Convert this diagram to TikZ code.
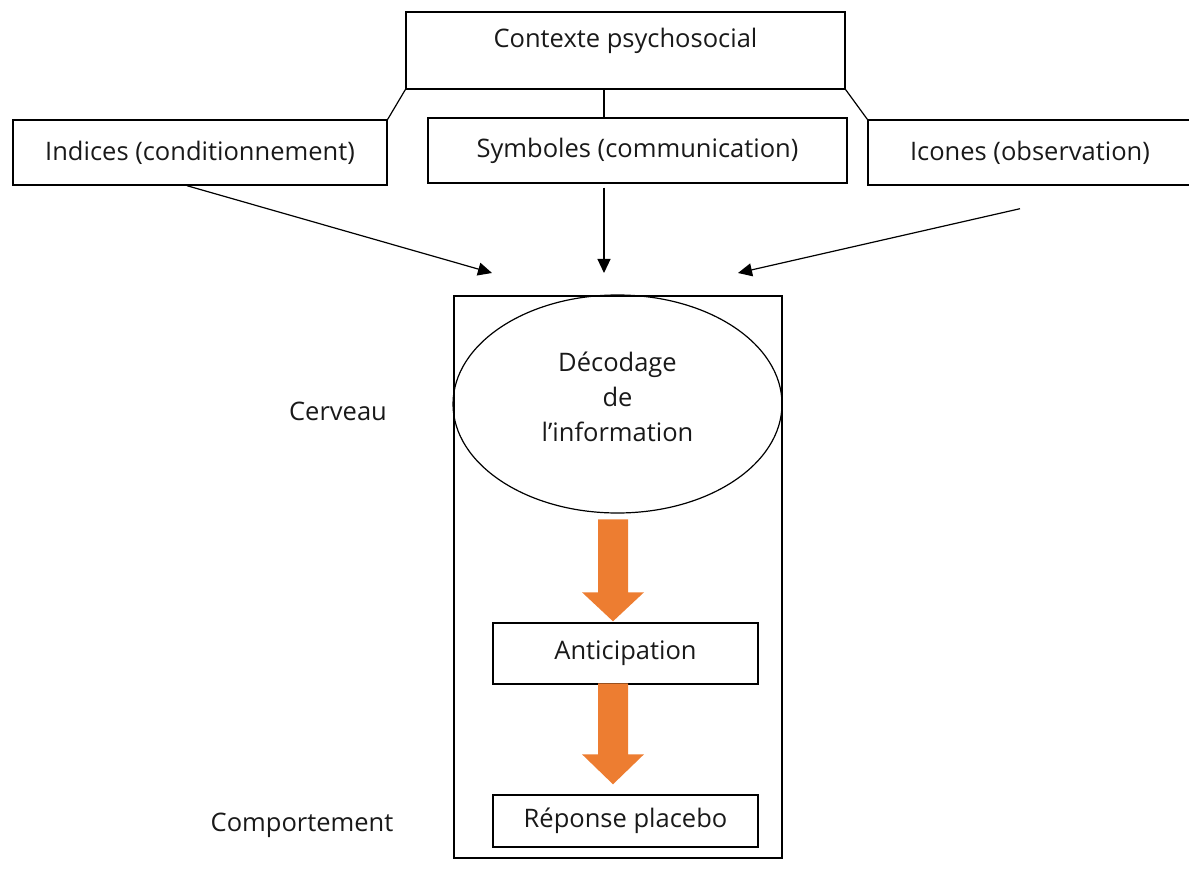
\documentclass[tikz,border=0pt]{standalone}
\usepackage{fontspec}
\setmainfont{Open Sans}
\usetikzlibrary{arrows.meta,shapes.geometric}
\definecolor{flow orange}{HTML}{ED7D31}

\begin{document}
\begin{tikzpicture}[
    x=1pt, y=-1pt,
    every node/.style={font=\fontsize{25.5}{35}\selectfont, text=black!90},
    box/.style={draw, line width=1.4pt, inner sep=0pt},
    link/.style={line width=1.2pt},
    flow/.style={line width=1.2pt, -{Triangle[length=14pt,width=13pt]}},
    big flow/.style={fill=flow orange}
  ]
  \useasboundingbox (0,0) rectangle (1189,869);
  \node [box, minimum width=439pt, text height=36pt, text depth=41pt]
    (ctx) at (625.5,50.5) {Contexte psychosocial};
  \node [box, minimum width=374pt, minimum height=65pt]
    (ind) at (200,152.5) {Indices (conditionnement)};
  \node [box, minimum width=419pt, minimum height=65pt]
    (sym) at (637.5,150.5) {Symboles (communication)};
  \node [box, minimum width=324pt, minimum height=65pt]
    (ico) at (1030,152.5) {Icones (observation)};
  \draw [link] (ctx.south west) -- (ind.north east);
  \draw [link]
    ([xshift=-21.5pt]ctx.south)
    -- ([xshift=-21.5pt]ctx.south |- sym.north)
  ;
  \draw [link] (ctx.south east) -- (ico.north west);
  \coordinate (in left) at (492,273);
  \coordinate (in mid) at (604,273);
  \coordinate (in right) at (738,273);
  \draw [flow] ([xshift=-13pt]ind.south) -- (in left);
  \draw [flow] ([xshift=-33.5pt,yshift=-4pt]sym.south) -- (in mid);
  \draw [flow] ([xshift=-10pt,yshift=-23pt]ico.south) -- (in right);
  \node [box, minimum width=328pt, minimum height=562pt] (brain) at (618,577) {};
  \node [draw, line width=1.2pt, ellipse, inner sep=0pt,
    minimum width=329pt, minimum height=218pt]
    (dec) at (617.5,404) {};
  \node [align=center] (dec text) at ([yshift=7pt]dec.center)
    {Décodage\\de\\l’information};
  \node [box, minimum width=265pt, minimum height=61pt]
    (ant) at (625.5,653.5) {Anticipation};
  \node [box, minimum width=265pt, minimum height=52pt]
    (rep) at (625.5,821) {Réponse placebo};
  \node (cerveau) at (338,411) {Cerveau};
  \node (comport) at (302,825) {Comportement};
  \coordinate (spine) at (613,0);
  \fill [big flow]
    ([yshift=1pt]spine |- ant.north)
    -- ++(-31,-29)
    -- ++(16,0)
    -- ++(0,-73)
    -- ++(30,0)
    -- ++(0,73)
    -- ++(16,0)
    -- cycle
  ;
  \fill [big flow]
    ([yshift=10pt]spine |- rep.north)
    -- ++(-31,-30)
    -- ++(16,0)
    -- ++(0,-71)
    -- ++(30,0)
    -- ++(0,71)
    -- ++(16,0)
    -- cycle
  ;
\end{tikzpicture}
\end{document}
